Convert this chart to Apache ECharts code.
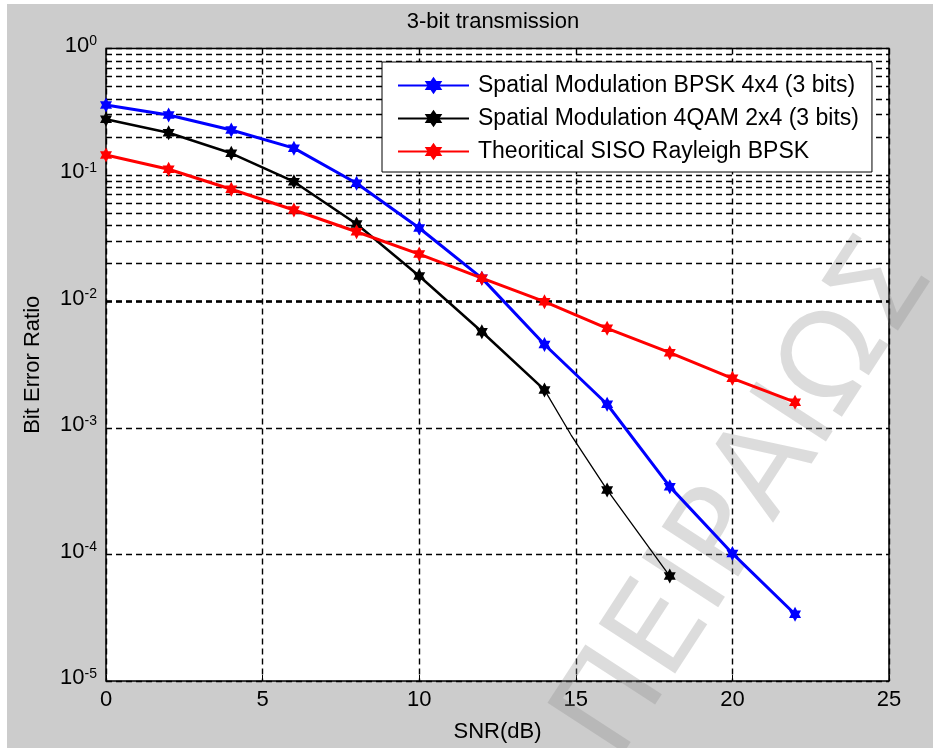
<!DOCTYPE html>
<html>
<head>
<meta charset="utf-8">
<script src="https://cdn.jsdelivr.net/npm/echarts@6.0.0/dist/echarts.min.js"></script>
<style>
html, body { margin: 0; background: #fff; }
#main { position: absolute; left: 7px; top: 4px; width: 926px; height: 744px; }
</style>
</head>
<body>
<div id="main"></div>
<script>
// SNR points (dB)
var snr = [0, 2, 4, 6, 8, 10, 12, 14, 16, 18, 20, 22];
// BER
var berSmBpsk4x4 = [0.357, 0.298, 0.227, 0.163, 0.086, 0.0381, 0.0153, 0.00457, 0.00154, 3.44e-4, 1.02e-4, 3.37e-5];
var berSm4qam2x4 = [0.276, 0.216, 0.1485, 0.0885, 0.041, 0.0159, 0.00577, 0.0020];
// thin tail of the 4QAM curve (with the kink near 14.85 dB)
var tailSnr = [14, 14.85, 16, 18];
var tailBer = [0.0020, 8.8e-4, 3.24e-4, 6.76e-5];
var berSiso = [0.144, 0.111, 0.0771, 0.0529, 0.0356, 0.0237, 0.0153, 0.00996, 0.00614, 0.00394, 0.00247, 0.0016];

var names = ['Spatial Modulation BPSK 4x4 (3 bits)', 'Spatial Modulation 4QAM 2x4 (3 bits)', 'Theoritical SISO Rayleigh BPSK'];

// log minor grid lines (2..9 in every decade)
var mantissas = [2, 3, 4, 5, 6, 7, 8, 9];
var decades = [1e-5, 1e-4, 1e-3, 1e-2, 1e-1];
var minorGrid = [];
decades.forEach(function (d) {
    mantissas.forEach(function (m) { minorGrid.push(m * d); });
});

var font = 'Liberation Sans, Arial, Helvetica, sans-serif';
var hexagram = 'path://M0,-10 L2.885,-5 L8.66,-5 L5.77,0 L8.66,5 L2.885,5 L0,10 L-2.885,5 L-8.66,5 L-5.77,0 L-8.66,-5 L-2.885,-5 Z';
var gridDash = { color: '#000', type: [6, 4], width: 1.4 };

function pairs(xs, ys) {
    return ys.map(function (y, i) { return [xs[i], y]; });
}

var tailData = pairs(tailSnr, tailBer).map(function (p, i) {
    return i < 2 ? { value: p, symbol: 'none' } : p;
});

var chart = echarts.init(document.getElementById('main'));
chart.setOption({
    animation: false,
    backgroundColor: '#cccccc',
    textStyle: { fontFamily: font },
    graphic: [{
        type: 'text',
        x: 486, y: 18,
        style: { text: '3-bit transmission', font: '22px ' + font, fill: '#000', align: 'center', verticalAlign: 'middle' }
    }, {
        type: 'text',
        x: 583, y: 741,
        rotation: 57 * Math.PI / 180,
        z: 1,
        silent: true,
        style: { text: 'ΠΕΙΡΑΙΩΣ', font: '125px DejaVu Sans, sans-serif', fill: 'rgba(140,140,140,0.3)', align: 'left', verticalAlign: 'middle' }
    }],
    legend: {
        orient: 'vertical',
        left: 375, top: 58,
        padding: [12, 13, 9, 15],
        itemWidth: 71, itemHeight: 22, itemGap: 10,
        backgroundColor: '#fff',
        borderColor: '#000',
        borderWidth: 1,
        data: names,
        textStyle: { fontSize: 23, fontFamily: font, color: '#000', padding: [0, 0, 0, 4] }
    },
    grid: {
        left: 99, right: 44, top: 44.5, bottom: 67,
        show: true,
        backgroundColor: '#fff',
        borderColor: '#000',
        borderWidth: 1.5
    },
    xAxis: {
        type: 'value',
        min: 0, max: 25, interval: 5,
        name: 'SNR(dB)',
        nameLocation: 'middle',
        nameGap: 40,
        nameTextStyle: { fontSize: 22, color: '#000', fontFamily: font },
        axisLine: { show: false },
        axisTick: { show: true, inside: true, length: 6, lineStyle: { color: '#000' } },
        axisLabel: { fontSize: 22, color: '#000', margin: 8, fontFamily: font },
        splitLine: { show: true, lineStyle: gridDash }
    },
    yAxis: {
        type: 'log',
        logBase: 10,
        min: 1e-5, max: 1,
        name: 'Bit Error Ratio',
        nameLocation: 'middle',
        nameGap: 62,
        nameTextStyle: { fontSize: 22, color: '#000', fontFamily: font },
        axisLine: { show: false },
        axisTick: { show: true, inside: true, length: 6, lineStyle: { color: '#000' } },
        axisLabel: {
            margin: 9,
            color: '#000',
            padding: [0, 0, 6, 0],
            formatter: function (v) {
                return '{b|10}{s|' + Math.round(Math.log10(v)) + '}';
            },
            rich: {
                b: { fontSize: 22, lineHeight: 22, verticalAlign: 'bottom', color: '#000', fontFamily: font },
                s: { fontSize: 14, lineHeight: 14, verticalAlign: 'top', padding: [0, 0, 12, 0], color: '#000', fontFamily: font }
            }
        },
        splitLine: { show: true, lineStyle: gridDash }
    },
    series: [{
        name: 'minor-grid',
        type: 'line',
        data: [],
        silent: true,
        markLine: {
            silent: true,
            z: 2,
            symbol: 'none',
            label: { show: false },
            lineStyle: gridDash,
            data: minorGrid.map(function (v) { return { yAxis: v }; })
        }
    }, {
        name: names[0],
        type: 'line',
        z: 3,
        data: pairs(snr, berSmBpsk4x4),
        symbol: hexagram,
        symbolSize: [12, 15],
        lineStyle: { color: '#0000ff', width: 3 },
        itemStyle: { color: '#0000ff' }
    }, {
        name: names[1],
        type: 'line',
        z: 3,
        data: pairs(snr, berSm4qam2x4),
        symbol: hexagram,
        symbolSize: [12, 15],
        lineStyle: { color: '#000', width: 2.5 },
        itemStyle: { color: '#000' }
    }, {
        name: 'tail',
        type: 'line',
        z: 3,
        data: tailData,
        symbol: hexagram,
        symbolSize: [12, 15],
        lineStyle: { color: '#000', width: 1.3 },
        itemStyle: { color: '#000' }
    }, {
        name: names[2],
        type: 'line',
        z: 3,
        data: pairs(snr, berSiso),
        symbol: hexagram,
        symbolSize: [12, 15],
        lineStyle: { color: '#ff0000', width: 3 },
        itemStyle: { color: '#ff0000' }
    }]
});
</script>
</body>
</html>
